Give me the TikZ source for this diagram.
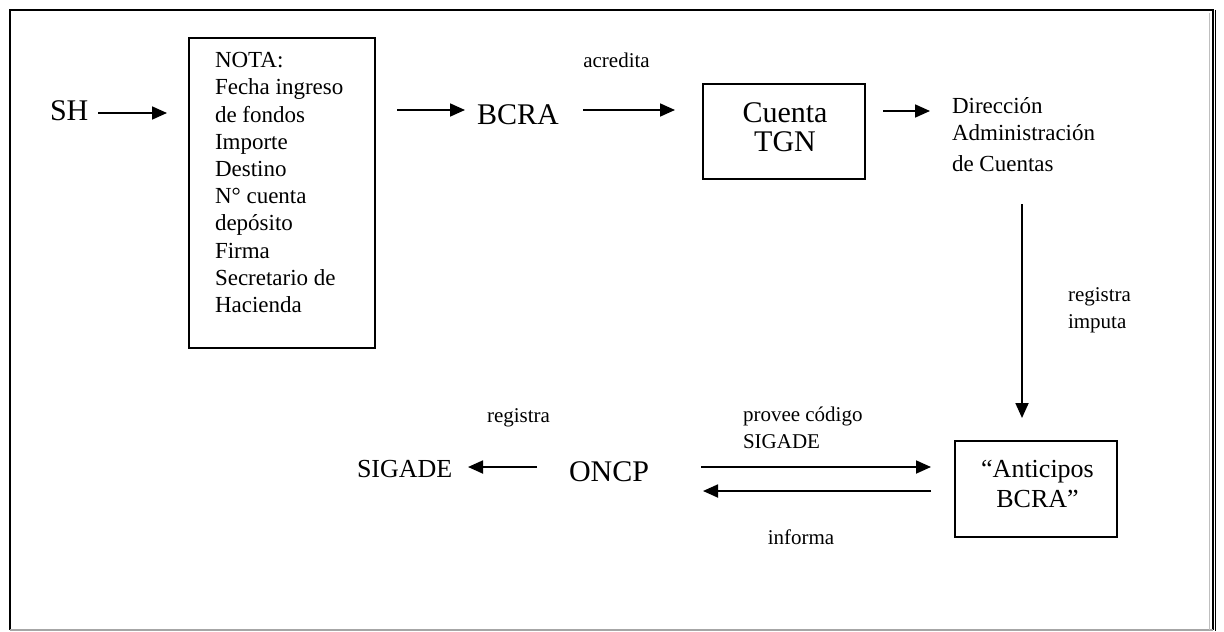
\documentclass[tikz,border=0pt]{standalone}
\usepackage{fontspec}
\setmainfont{Liberation Serif}
\usetikzlibrary{arrows.meta,calc}
\begin{document}
\begin{tikzpicture}[x=0.5pt,y=-0.5pt,
  every node/.style={inner sep=0pt, outer sep=0pt},
  box/.style={draw, line width=1pt},
  arr/.style={line width=0.9pt, -{Triangle[length=7.5pt,width=6.5pt]}},
  bigtext/.style={font=\fontsize{15}{14.5}\selectfont},
  midtext/.style={font=\fontsize{13}{15}\selectfont},
  bodytext/.style={font=\fontsize{11.5}{13.6}\selectfont},
  lbl/.style={font=\fontsize{10.5}{13.5}\selectfont},
]
\useasboundingbox (0,0) rectangle (1224,631);
% frame
\draw[line width=1pt] (9.5,630) -- (9.5,10.5) -- (1212.5,10.5) -- (1212.5,630);
\draw[line width=0.9pt] (1215.5,10) -- (1215.5,631);
\draw[black!35, line width=0.6pt] (9.5,630) -- (1212.5,630);
\draw[black!25, line width=0.5pt] (1209,13) -- (1209,630);

% nodes
\node[bigtext, anchor=base west] (sh) at (50,120) {SH};
\node[box, minimum width=93pt, minimum height=155pt, anchor=north west] (nota) at (189,38) {};
\node[bodytext, align=left, anchor=north west] (notatext) at (215,52.5)
  {NOTA:\\Fecha ingreso\\de fondos\\Importe\\Destino\\N° cuenta\\depósito\\Firma\\Secretario de\\Hacienda};
\node[bigtext, anchor=base west] (bcra) at (477,125) {BCRA};
\node[box, minimum width=81pt, minimum height=47.5pt] (tgn) at (784,131.5) {};
\node[bigtext, align=center, anchor=north] (tgntext) at (785,102.7) {Cuenta\\TGN};
\node[bodytext, align=left, anchor=north west] (dir) at (952,97.3)
  {Dirección\\Administración\\[2pt]de Cuentas};
\node[box, minimum width=81pt, minimum height=48pt] (ant) at (1036,489) {};
\node[midtext, align=center, anchor=north] (anttext) at (1037.5,460.4) {“Anticipos\\BCRA”};
\node[bigtext, anchor=base west] (oncp) at (569,481) {ONCP};
\node[midtext, anchor=base west] (sig) at (357,477) {SIGADE};

% labels
\node[lbl, anchor=base] (lacr) at (616.5,68) {acredita};
\node[lbl, align=left, anchor=north west] (lreg) at (1068,287.7) {registra\\imputa};
\node[lbl, align=left, anchor=north west] (lprov) at (743,406.7) {provee código\\SIGADE};
\node[lbl, anchor=base] (lreg2) at (518.5,422) {registra};
\node[lbl, anchor=base] (linf) at (801,544) {informa};

% connectors
\draw[arr] ($(sh.base west)+(48,-7)$) -- ($(nota.west |- sh.base)+(-22,-7)$);
\draw[arr] ($(nota.east |- bcra.base)+(22,-15)$) -- ($(bcra.base west)+(-12,-15)$);
\draw[arr] ($(bcra.base west)+(106,-15)$) -- ($(tgn.west |- bcra.base)+(-28,-15)$);
\draw[arr] ($(tgn.east)+(18,-20.5)$) -- ($(dir.north west)+(-22,13.7)$);
\draw[arr] ($(dir.north west)+(70,106.7)$) -- ($(ant.north)+(-14,-23)$);
\draw[arr] ($(oncp.base west)+(132,-14)$) -- ($(ant.west |- oncp.base)+(-24,-14)$);
\draw[arr] ($(ant.west |- oncp.base)+(-24,10)$) -- ($(oncp.base west)+(134,10)$);
\draw[arr] ($(oncp.base west)+(-32,-14)$) -- ($(sig.base west)+(111,-10)$);
\end{tikzpicture}
\end{document}
